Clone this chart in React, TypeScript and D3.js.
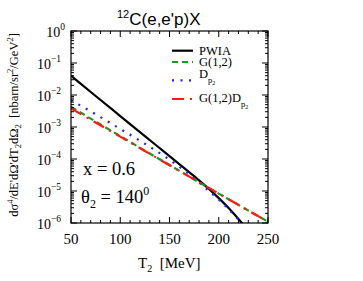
import * as d3 from "d3";
import React from "react";

const W = 363;
const H = 281;
const margin = { left: 71, right: 95, top: 31, bottom: 58 };

// T2 in MeV
const tPwia = [50, 75, 100, 125, 150, 175, 190, 200, 210, 225];
const pwia = [4.0e-2, 9.3e-3, 2.2e-3, 5.2e-4, 1.23e-4, 2.9e-5, 1.17e-5, 6.0e-6, 2.95e-6, 8.9e-7];

const tDp = [50, 75, 100, 125, 150, 175, 190, 200, 210, 225];
const dp = [6.9e-3, 2.5e-3, 8.7e-4, 3.0e-4, 9.5e-5, 2.5e-5, 1.0e-5, 5.4e-6, 2.7e-6, 8.5e-7];

const tG = [50, 75, 100, 125, 150, 175, 200, 225, 250];
const g12 = [4.3e-3, 1.48e-3, 5.2e-4, 1.82e-4, 6.5e-5, 2.3e-5, 8.3e-6, 3.0e-6, 1.1e-6];
const g12dp = [3.8e-3, 1.38e-3, 5.0e-4, 1.78e-4, 6.4e-5, 2.3e-5, 8.3e-6, 3.0e-6, 1.1e-6];

const xTicks = [50, 100, 150, 200, 250];
const yExps = [0, -1, -2, -3, -4, -5, -6];

const series = [
  { name: "PWIA", t: tPwia, v: pwia, color: "#000000", dash: null },
  { name: "G(1,2)", t: tG, v: g12, color: "#1a9a1a", dash: "6,4" },
  { name: "Dp2", t: tDp, v: dp, color: "#1f1fff", dash: "2,6.5" },
  { name: "G(1,2)Dp2", t: tG, v: g12dp, color: "#ff1a1a", dash: "12,6,2,6" },
];

const serif = "'Liberation Serif', 'DejaVu Serif', serif";
const sans = "'Liberation Sans', Arial, sans-serif";

export default function App() {
  const x = d3.scaleLinear().domain([50, 250]).range([margin.left, W - margin.right]);
  const y = d3.scaleLog().domain([1e-6, 1]).range([H - margin.bottom, margin.top]);
  const [x0, x1] = x.range();
  const [y1, y0] = y.range();

  const line = d3.line<number>().curve(d3.curveMonotoneX);

  const xMinor = d3.range(50, 251, 10);
  const yMinor: number[] = [];
  for (let e = -6; e < 0; e++) for (let k = 2; k <= 9; k++) yMinor.push(k * Math.pow(10, e));

  return (
    <svg width={W} height={H} style={{ position: "absolute", left: 0, top: 0, background: "#fff" }}>
      <defs>
        <clipPath id="plot">
          <rect x={x0} y={y0} width={x1 - x0} height={y1 - y0} />
        </clipPath>
      </defs>

      {/* curves */}
      <g clipPath="url(#plot)" fill="none" strokeWidth={2.2}>
        {series.map((s) => (
          <path
            key={s.name}
            d={line.x((_, i) => x(s.t[i])).y((d) => y(d))(s.v) || ""}
            stroke={s.color}
            strokeDasharray={s.dash || undefined}
          />
        ))}
      </g>

      {/* frame and ticks */}
      <g stroke="#000" strokeWidth={1} fill="none">
        <rect x={x0} y={y0} width={x1 - x0} height={y1 - y0} strokeWidth={1.2} />
        {xMinor.map((t) => {
          const len = t % 50 === 0 ? 6 : 3;
          return (
            <g key={"x" + t}>
              <line x1={x(t)} x2={x(t)} y1={y1} y2={y1 - len} />
              <line x1={x(t)} x2={x(t)} y1={y0} y2={y0 + len} />
            </g>
          );
        })}
        {yExps.map((e) => (
          <g key={"ye" + e}>
            <line x1={x0} x2={x0 + 6} y1={y(Math.pow(10, e))} y2={y(Math.pow(10, e))} />
            <line x1={x1} x2={x1 - 6} y1={y(Math.pow(10, e))} y2={y(Math.pow(10, e))} />
          </g>
        ))}
        {yMinor.map((v, i) => (
          <g key={"ym" + i}>
            <line x1={x0} x2={x0 + 3} y1={y(v)} y2={y(v)} />
            <line x1={x1} x2={x1 - 3} y1={y(v)} y2={y(v)} />
          </g>
        ))}
      </g>

      {/* x tick labels */}
      <g fontFamily={serif} fontSize={15} textAnchor="middle" fill="#000">
        {xTicks.map((t) => (
          <text key={t} x={x(t)} y={244}>
            {t}
          </text>
        ))}
      </g>

      {/* y tick labels */}
      <g fontFamily={serif} fill="#000">
        {yExps.map((e) => (
          <text key={e} x={e === 0 ? 65 : 61} y={y(Math.pow(10, e)) + 5.5} fontSize={14} textAnchor="end">
            10
            <tspan fontSize={9.5} dy={-7}>
              {e === 0 ? "0" : "\u2212" + -e}
            </tspan>
          </text>
        ))}
      </g>

      {/* title */}
      <text x={117} y={25} fontFamily={sans} fontSize={17} fill="#000">
        <tspan fontSize={11} dy={-7}>12</tspan>
        <tspan dy={7}>C(e,e'p)X</tspan>
      </text>

      {/* x axis title */}
      <text x={138} y={268} fontFamily={serif} fontSize={15} fill="#000">
        T<tspan fontSize={10} dy={4}>2</tspan>
        <tspan dy={-4}>{"\u00a0\u00a0[MeV]"}</tspan>
      </text>

      {/* y axis title */}
      <text
        transform={`translate(18,${125}) rotate(-90)`}
        textAnchor="middle"
        fontFamily={serif}
        fontSize={12.5}
        fill="#000"
      >
        dσ<tspan fontSize={8.5} dy={-5}>4</tspan>
        <tspan dy={5}>/dE'dΩ'dT</tspan>
        <tspan fontSize={8.5} dy={3}>2</tspan>
        <tspan dy={-3}>dΩ</tspan>
        <tspan fontSize={8.5} dy={3}>2</tspan>
        <tspan dy={-3}>{"\u00a0\u00a0[nbarn/sr"}</tspan>
        <tspan fontSize={8.5} dy={-5}>2</tspan>
        <tspan dy={5}>/GeV</tspan>
        <tspan fontSize={8.5} dy={-5}>2</tspan>
        <tspan dy={5}>]</tspan>
      </text>

      {/* annotations */}
      <text x={83} y={175} fontFamily={serif} fontSize={18.5} fill="#000">
        x = 0.6
      </text>
      <text x={81} y={203} fontFamily={serif} fontSize={18.5} fill="#000">
        θ<tspan fontSize={12} dy={5}>2</tspan>
        <tspan dy={-5}> = 140</tspan>
        <tspan fontSize={12} dy={-8}>0</tspan>
      </text>

      {/* legend */}
      <g fontFamily={serif} fontSize={12.5} fill="#000">
        {series.map((s, i) => {
          const ly = [50.7, 62, 80.3, 99][i];
          return (
            <line
              key={s.name}
              x1={172}
              x2={193}
              y1={ly}
              y2={ly}
              stroke={s.color}
              strokeWidth={2.2}
              strokeDasharray={s.dash || undefined}
            />
          );
        })}
        <text x={199} y={54.5}>PWIA</text>
        <text x={199} y={66}>G(1,2)</text>
        <text x={199} y={77.5}>
          D<tspan fontSize={8.5} dy={5}>p</tspan>
          <tspan fontSize={6} dy={2}>2</tspan>
        </text>
        <text x={199} y={102}>
          G(1,2)D<tspan fontSize={8.5} dy={5}>p</tspan>
          <tspan fontSize={6} dy={2}>2</tspan>
        </text>
      </g>
    </svg>
  );
}
